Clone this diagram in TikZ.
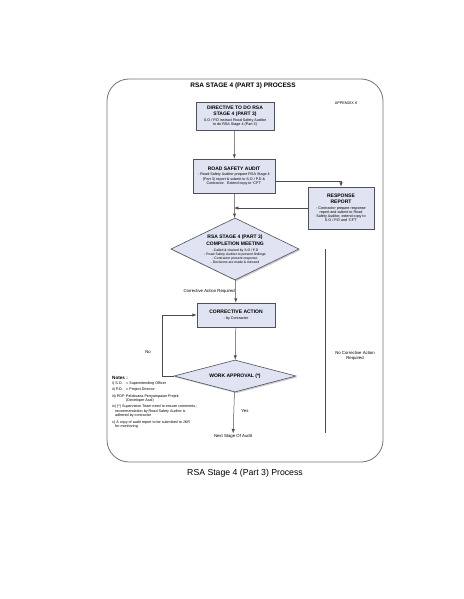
\documentclass[tikz,border=0pt]{standalone}
\usepackage{fontspec}
\setmainfont{Liberation Sans}
\usetikzlibrary{shapes.geometric}
\usetikzlibrary{arrows}
\usetikzlibrary{shadows}
\definecolor{boxfill}{RGB}{224,228,242}
\definecolor{boxline}{RGB}{80,80,92}
\newcommand{\hd}{\fontsize{5}{6}\selectfont\bfseries}
\newcommand{\sm}{\fontsize{3.7}{4.3}\selectfont}

\begin{document}
\begin{tikzpicture}[x=1pt,y=-1pt,>=latex,
procbox/.style={draw=boxline,fill=boxfill,line width=0.6pt,inner sep=1pt,align=center,font=\sm,
  drop shadow={shadow xshift=1.3pt,shadow yshift=-1.3pt,fill=black!40}},
decision/.style={diamond,draw=boxline,fill=boxfill,line width=0.6pt,inner sep=0pt,align=center,
  font=\fontsize{3.4}{4}\selectfont,
  drop shadow={shadow xshift=1.3pt,shadow yshift=-1.3pt,fill=black!40}},
flow/.style={draw=black!70,line width=0.5pt},
lbl/.style={font=\fontsize{4.3}{5}\selectfont,inner sep=0.5pt}]
\useasboundingbox[fill=white] (0,0) rectangle (463,599);
\draw[black!55,line width=0.8pt,rounded corners=22pt] (107,79) rectangle (383,462);
\node[font=\fontsize{6.5}{7}\selectfont\bfseries] (title) at (243,86) {RSA STAGE 4 (PART 3) PROCESS};
\node[font=\fontsize{3.8}{4.2}\selectfont] (appx) at (346,103) {APPENDIX 6};
\node[procbox,minimum width=78pt,minimum height=28pt] (dir) at (235,116)
  {\hd DIRECTIVE TO DO RSA\\[1.5pt] \hd STAGE 4 (PART 3)\\[1.5pt] S.O / P.D instruct Road Safety Auditor\\ to do RSA Stage 4 (Part 3)};
\node[procbox,minimum width=82pt,minimum height=34pt] (rsa) at (234,176)
  {\hd ROAD SAFETY AUDIT\\[1.5pt] - Road Safety Auditor prepare RSA Stage 4\\ (Part 3) report \& submit to S.O / P.D \&\\ Contractor. \ Extend copy to `CFT'};
\node[procbox,minimum width=66pt,minimum height=42pt] (rr) at (341,208)
  {\hd RESPONSE\\[1.5pt] \hd REPORT\\[1.5pt] - Contractor prepare response\\ report and submit to Road\\ Safety Auditor, extend copy to\\ S.O / P.D and `CFT'};
\node[decision,aspect=2.1,minimum width=128pt,minimum height=62pt] (cm) at (235,249)
  {\hd RSA STAGE 4 (PART 3)\\[1.5pt] \hd COMPLETION MEETING\\[1.5pt] - Called \& chaired by S.O / P.D\\ - Road Safety Auditor to present findings\\ - Contractor present response\\ - Decisions are made \& minuted};
\node[procbox,minimum width=78pt,minimum height=24pt] (ca) at (236,315)
  {\hd CORRECTIVE ACTION\\[1.5pt] - by Contractor};
\node[decision,aspect=3.8,minimum width=122pt,minimum height=32pt] (wa) at (235,376) {\hd WORK APPROVAL (*)};
\node[lbl] (next) at (233,436) {Next Stage Of Audit};
\coordinate (nctop) at (325,249);
\coordinate (ncbot) at (325,433);
\draw[flow,->] (dir) -- (rsa);
\draw[flow,->] (rsa.east |- 0,181) -| (rr.north);
\draw[flow,->] (rr.west) -- (rr.west -| rsa.south);
\draw[flow,->] (rsa) -- (cm);
\draw[flow,->] (cm) -- (ca) node[lbl,midway,left] {Corrective Action Required};
\draw[flow,->] (ca) -- (wa);
\draw[flow,->] (wa.west) -- ++(-11,0) |- (ca.west);
\draw[flow,->] (wa) -- (next);
\draw[flow] (nctop) -- (ncbot);
\node[lbl] (no) at (148,352) {No};
\node[lbl] (yes) at (245,411) {Yes};
\node[lbl,align=center] (nocar) at (355,356) {No Corrective Action\\ Required};
\node[anchor=north west,align=left,inner sep=0pt,font=\fontsize{3.7}{4.4}\selectfont] (notes) at (112,376)
  {{\fontsize{4.6}{5}\selectfont\bfseries Notes :}\\[0.6pt]
   \makebox[14pt][l]{i) S.O.}= Superintending Officer\\[2pt]
   \makebox[14pt][l]{ii) P.D.}= Project Director\\[2pt]
   \makebox[14pt][l]{iii) PDP :}Pelaksana Penyampaian Projek\\
   \makebox[14pt][l]{}(Developer Asal)\\[2pt]
   iv) (*) Supervision Team need to ensure comments ;\\
   \hspace*{3pt}recommendation by Road Safety Auditor is\\
   \hspace*{3pt}adhered by contractor\\[2pt]
   v) A copy of audit report to be submitted to JKR\\
   \hspace*{3pt}for monitoring};
\node[font=\fontsize{8.7}{10}\selectfont] (caption) at (245,473) {RSA Stage 4 (Part 3) Process};
\end{tikzpicture}
\end{document}
